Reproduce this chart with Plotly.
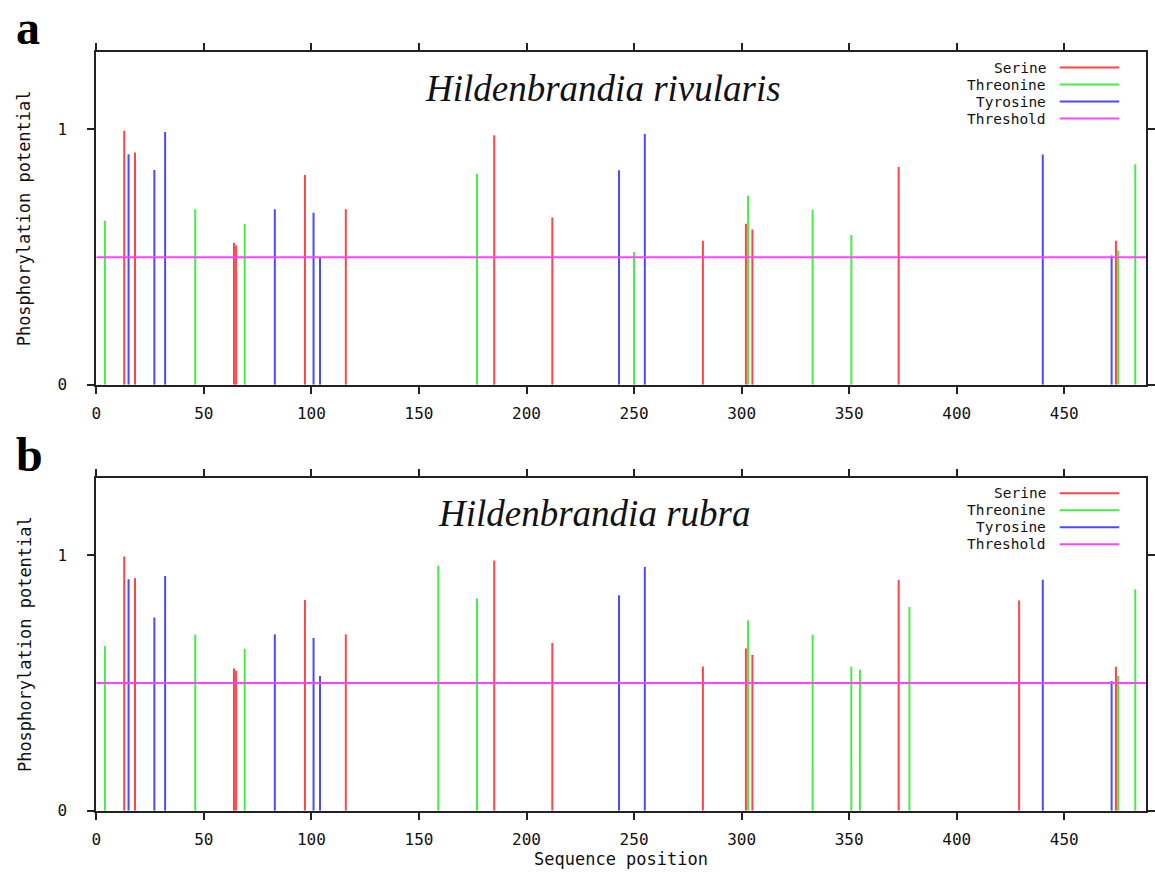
import plotly.graph_objects as go

# ---------------- data ----------------
threshold = 0.5
x_max = 488
y_max = 1.303

# Panel a: Hildenbrandia rivularis
serine_pos_a = [13, 18, 64, 65, 97, 116, 185, 212, 282, 302, 305, 373, 474]
serine_val_a = [0.995, 0.910, 0.556, 0.546, 0.822, 0.688, 0.977, 0.655, 0.564, 0.631, 0.608, 0.853, 0.564]
threonine_pos_a = [4, 46, 69, 177, 250, 303, 333, 351, 475, 483]
threonine_val_a = [0.643, 0.688, 0.630, 0.827, 0.520, 0.741, 0.686, 0.587, 0.526, 0.864]
tyrosine_pos_a = [15, 27, 32, 83, 101, 104, 243, 255, 440, 472]
tyrosine_val_a = [0.903, 0.841, 0.990, 0.688, 0.674, 0.498, 0.840, 0.982, 0.902, 0.507]

# Panel b: Hildenbrandia rubra
serine_pos_b = [13, 18, 64, 65, 97, 116, 185, 212, 282, 302, 305, 373, 429, 474]
serine_val_b = [0.995, 0.910, 0.557, 0.548, 0.825, 0.690, 0.979, 0.656, 0.564, 0.635, 0.610, 0.903, 0.823, 0.563]
threonine_pos_b = [4, 46, 69, 159, 177, 303, 333, 351, 355, 378, 475, 483]
threonine_val_b = [0.645, 0.690, 0.634, 0.959, 0.831, 0.745, 0.689, 0.564, 0.552, 0.797, 0.527, 0.867]
tyrosine_pos_b = [15, 27, 32, 83, 101, 104, 243, 255, 440, 472]
tyrosine_val_b = [0.906, 0.756, 0.919, 0.690, 0.676, 0.527, 0.843, 0.954, 0.904, 0.508]

series_names = ["Serine", "Threonine", "Tyrosine", "Threshold"]
x_ticks = [0, 50, 100, 150, 200, 250, 300, 350, 400, 450]
y_ticks = [0, 1]
titles = ["Hildenbrandia rivularis", "Hildenbrandia rubra"]
panel_labels = ["a", "b"]

# ---------------- styling ----------------
colors = {"Serine": "#ff4545", "Threonine": "#44ee44", "Tyrosine": "#4a4aff", "Threshold": "#ff44ff"}
W, H = 1155, 879
mono = "DejaVu Sans Mono"
serif = "Liberation Serif"

# plot areas in pixels (left, right, top, bottom)
areas = [(92, 1150, 52.7, 389.3), (92, 1150, 483.3, 820.0)]
title_cx = [603, 594]
title_size = [37, 37]
# panel letter placement: (y pixel, anchor)
letter_pos = [(0, "top"), (488, "bottom")]


def px_x(p):
    return p / W


def px_y(p):
    return 1 - p / H


def stems(pos, val):
    xs, ys = [], []
    for p, v in zip(pos, val):
        xs += [p, p, None]
        ys += [0, v, None]
    return xs, ys


fig = go.Figure()

panels = [
    [(serine_pos_a, serine_val_a), (threonine_pos_a, threonine_val_a), (tyrosine_pos_a, tyrosine_val_a)],
    [(serine_pos_b, serine_val_b), (threonine_pos_b, threonine_val_b), (tyrosine_pos_b, tyrosine_val_b)],
]

annotations = []
shapes = []

for i, panel in enumerate(panels):
    xa = "x" if i == 0 else "x2"
    ya = "y" if i == 0 else "y2"
    for name, (pos, val) in zip(series_names[:3], panel):
        xs, ys = stems(pos, val)
        fig.add_trace(go.Scatter(x=xs, y=ys, mode="lines", name=name,
                                 line=dict(color=colors[name], width=2),
                                 xaxis=xa, yaxis=ya, showlegend=False, hoverinfo="skip"))
    fig.add_trace(go.Scatter(x=[0, x_max], y=[threshold, threshold], mode="lines", name="Threshold",
                             line=dict(color=colors["Threshold"], width=2),
                             xaxis=xa, yaxis=ya, showlegend=False, hoverinfo="skip"))

    l, r, t, b = areas[i]
    axis_common = dict(showline=True, linecolor="#222", linewidth=2, mirror="ticks",
                       ticks="outside", ticklen=7, tickwidth=2, tickcolor="#222",
                       showgrid=False, zeroline=False,
                       tickfont=dict(family=mono, size=16, color="#111"))
    xkey = "xaxis" if i == 0 else "xaxis2"
    ykey = "yaxis" if i == 0 else "yaxis2"
    fig.update_layout(**{
        xkey: dict(axis_common, domain=[px_x(l), px_x(r)], range=[0, x_max],
                   tickvals=x_ticks, anchor=ya, ticklabelstandoff=6),
        ykey: dict(axis_common, domain=[px_y(b), px_y(t)], range=[0, y_max],
                   tickvals=y_ticks, anchor=xa, ticklabelstandoff=17),
    })

    # panel title
    annotations.append(dict(text="<i>" + titles[i] + "</i>", x=px_x(title_cx[i]),
                            y=px_y(t + 36.5), xref="paper", yref="paper", showarrow=False,
                            xanchor="center", yanchor="middle",
                            font=dict(family=serif, size=title_size[i], color="#111")))
    # panel letter
    ly, lanchor = letter_pos[i]
    annotations.append(dict(text="<b>" + panel_labels[i] + "</b>", x=px_x(10), y=px_y(ly),
                            xref="paper", yref="paper", showarrow=False, borderpad=0,
                            xanchor="left", yanchor=lanchor,
                            font=dict(family=serif, size=48, color="#000")))
    # y axis title
    annotations.append(dict(text="Phosphorylation potential", x=px_x(20), y=px_y((t + b) / 2),
                            xref="paper", yref="paper", showarrow=False, textangle=-90,
                            xanchor="center", yanchor="middle",
                            font=dict(family=mono, size=17, color="#111")))
    # legend (text right, line sample on the right)
    for k, name in enumerate(series_names):
        yy = t + 15.6 + 17.2 * k
        annotations.append(dict(text=name, x=px_x(1050), y=px_y(yy), xref="paper", yref="paper",
                                showarrow=False, xanchor="right", yanchor="middle", borderpad=0,
                                font=dict(family=mono, size=14.5, color="#111")))
        shapes.append(dict(type="line", xref="paper", yref="paper",
                           x0=px_x(1063), x1=px_x(1123), y0=px_y(yy), y1=px_y(yy),
                           line=dict(color=colors[name], width=2)))

annotations.append(dict(text="Sequence position", x=px_x(621), y=px_y(869), xref="paper", yref="paper",
                        showarrow=False, xanchor="center", yanchor="middle",
                        font=dict(family=mono, size=17, color="#111")))

fig.update_layout(width=W, height=H, margin=dict(l=0, r=0, t=0, b=0),
                  paper_bgcolor="white", plot_bgcolor="white",
                  annotations=annotations, shapes=shapes, showlegend=False)

fig.write_html("out.html", config={"displayModeBar": False, "staticPlot": True},
               post_script="document.body.style.margin='0';document.body.style.overflow='hidden';")
